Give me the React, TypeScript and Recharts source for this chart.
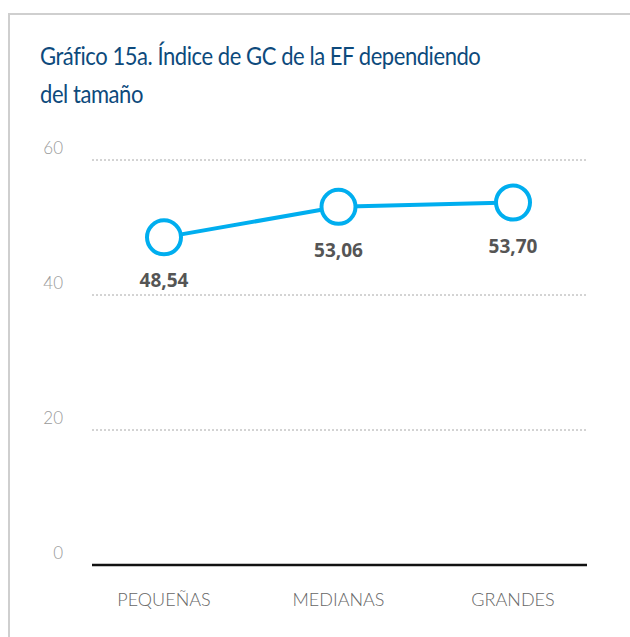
import React from 'react';
import { LineChart, Line, XAxis, YAxis, CartesianGrid, LabelList } from 'recharts';

const categories = ['PEQUEÑAS', 'MEDIANAS', 'GRANDES'];
const values = [48.54, 53.06, 53.7];
const yTicks = [0, 20, 40, 60];

const data = categories.map((name, i) => ({ name, value: values[i] }));

const BLUE = '#00aeef';

const YTick = (props: any) => {
  const { x, y, payload } = props;
  return (
    <text x={x} y={y - 6} textAnchor="end" fill="#9a9a9a" fontSize={17} fontFamily="Lato" fontWeight={300}>
      {payload.value}
    </text>
  );
};

const ValueLabel = (props: any) => {
  const { x, y, value } = props;
  return (
    <text x={x} y={y + 50} textAnchor="middle" fill="#555" fontSize={19} fontWeight={700} fontFamily="'Open Sans'">
      {Number(value).toFixed(2).replace('.', ',')}
    </text>
  );
};

export default function App() {
  return (
    <div style={{ position: 'absolute', top: 0, left: 0, width: 630, height: 637, background: '#fff', overflow: 'hidden' }}>
      <div
        style={{
          position: 'absolute',
          left: 8,
          top: 13,
          width: 640,
          height: 640,
          borderTop: '2px solid #cfcfcf',
          borderLeft: '2px solid #cfcfcf',
          boxSizing: 'border-box',
        }}
      />
      <div
        style={{
          position: 'absolute',
          left: 40,
          top: 36,
          fontFamily: 'Lato',
          fontSize: 25,
          lineHeight: '38px',
          color: '#0d4a7c',
          letterSpacing: -0.5,
          whiteSpace: 'nowrap',
          transform: 'scaleX(0.88)',
          transformOrigin: 'left top',
        }}
      >
        Gráfico 15a. Índice de GC de la EF dependiendo
        <br />
        del tamaño
      </div>
      <div style={{ position: 'absolute', top: 0, left: 0 }}>
        <LineChart width={630} height={637} data={data} margin={{ top: 160, right: 43, bottom: 32, left: 32 }}>
          <CartesianGrid vertical={false} stroke="#a8a8a8" strokeDasharray="2 2" />
          <XAxis
            dataKey="name"
            height={40}
            padding={{ left: 72, right: 74 }}
            axisLine={{ stroke: '#111', strokeWidth: 2.5 }}
            tickLine={false}
            tickSize={0}
            tickMargin={28}
            tick={{ fill: '#666', fontSize: 18, fontFamily: 'Lato', fontWeight: 300 }}
          />
          <YAxis
            domain={[0, 60]}
            ticks={yTicks}
            width={60}
            axisLine={false}
            tickLine={false}
            tickSize={0}
            tickMargin={29}
            tick={<YTick />}
          />
          <Line
            dataKey="value"
            stroke={BLUE}
            strokeWidth={4}
            dot={{ r: 17, fill: '#fff', stroke: BLUE, strokeWidth: 4 }}
            isAnimationActive={false}
          >
            <LabelList dataKey="value" content={<ValueLabel />} />
          </Line>
        </LineChart>
      </div>
    </div>
  );
}
